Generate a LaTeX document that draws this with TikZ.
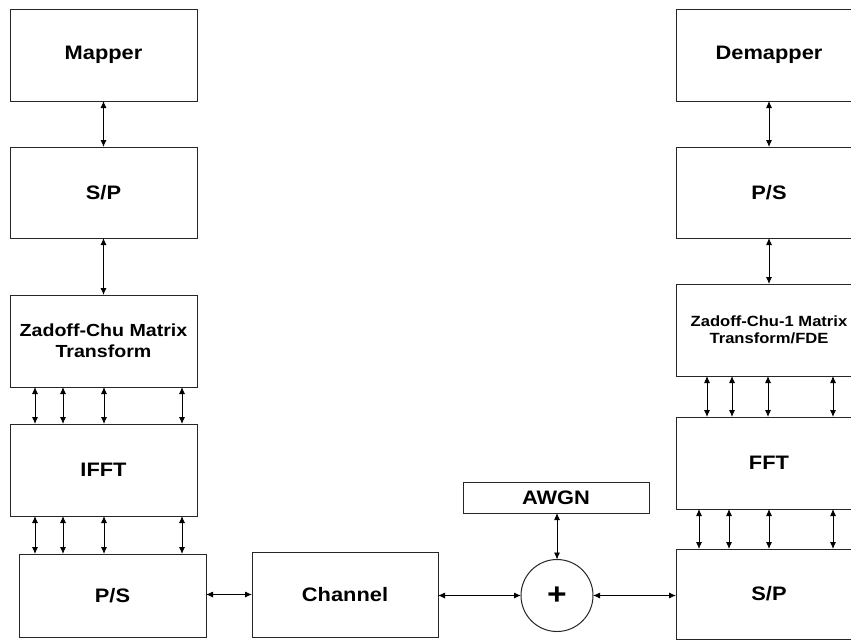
\documentclass[tikz,border=0pt]{standalone}
\usepackage{fontspec}
\newfontfamily\lab{Liberation Sans}[FakeStretch=1.12]
\usetikzlibrary{arrows.meta}
\begin{document}
\begin{tikzpicture}[x=1pt,y=-1pt,
  blk/.style={draw=black!85, line width=1pt, fill=white, inner sep=0pt, outer sep=0pt,
    minimum width=187pt, font=\lab\bfseries\fontsize{19.5}{21}\selectfont, align=center},
  arr/.style={line width=0.9pt, {Latex[length=7pt,width=6pt]}-{Latex[length=7pt,width=6pt]}},
  sumc/.style={draw=black!85, line width=1pt, circle, minimum size=72pt, inner sep=0pt, outer sep=0pt,
    font=\lab\bfseries\fontsize{30}{30}\selectfont}]
\clip (0,0) rectangle (851,641);
\fill[white] (0,0) rectangle (851,641);
% left column
\node[blk, minimum height=92pt] (mapper) at (103.5,55) {Mapper};
\node[blk, minimum height=91pt] (sp1) at (103.5,192.5) {S/P};
\node[blk, minimum height=92pt, font=\lab\bfseries\fontsize{17.5}{21}\selectfont] (zc) at (103.5,341) {Zadoff-Chu Matrix\\Transform};
\node[blk, minimum height=92pt] (ifft) at (103.5,470) {IFFT};
\node[blk, minimum height=83pt] (ps1) at (112.5,595.5) {P/S};
% middle
\node[blk, minimum width=186pt, minimum height=85pt] (chan) at (345,594.5) {Channel};
\node[blk, minimum width=186pt, minimum height=31pt] (awgn) at (556,497.5) {AWGN};
\node[sumc] (sum) at (557,595.5) {+};
% right column
\node[blk, minimum width=186pt, minimum height=92pt] (demap) at (769,55) {Demapper};
\node[blk, minimum width=186pt, minimum height=91pt] (ps2) at (769,192.5) {P/S};
\node[blk, minimum width=186pt, minimum height=92pt, font=\lab\bfseries\fontsize{14.8}{17.5}\selectfont] (zci) at (769,330) {Zadoff-Chu-1 Matrix\\Transform/FDE};
\node[blk, minimum width=186pt, minimum height=92pt] (fft) at (769,463) {FFT};
\node[blk, minimum width=186pt, minimum height=90pt] (sp2) at (769,594) {S/P};
% left connectors
\draw[arr] (mapper.south) -- (sp1.north);
\draw[arr] (sp1.south) -- (zc.north);
\foreach \xx in {35,63,104,182}{
  \coordinate (a\xx) at (\xx,0);
  \draw[arr] (zc.south -| a\xx) -- (ifft.north -| a\xx);
  \draw[arr] (ifft.south -| a\xx) -- (ps1.north -| a\xx);
}
\draw[arr] (ps1.east |- chan.west) -- (chan.west);
\draw[arr] (chan.east |- sum.west) -- (sum.west);
\draw[arr] (awgn.south -| sum.north) -- (sum.north);
\draw[arr] (sum.east) -- (sp2.west |- sum.east);
% right connectors
\draw[arr] (demap.south) -- (ps2.north);
\draw[arr] (ps2.south) -- (zci.north);
\foreach \xx in {707,732,768,833}{
  \coordinate (b\xx) at (\xx,0);
  \draw[arr] (zci.south -| b\xx) -- (fft.north -| b\xx);
}
\foreach \xx in {699,729,769,833}{
  \coordinate (c\xx) at (\xx,0);
  \draw[arr] (fft.south -| c\xx) -- (sp2.north -| c\xx);
}
\end{tikzpicture}
\end{document}
